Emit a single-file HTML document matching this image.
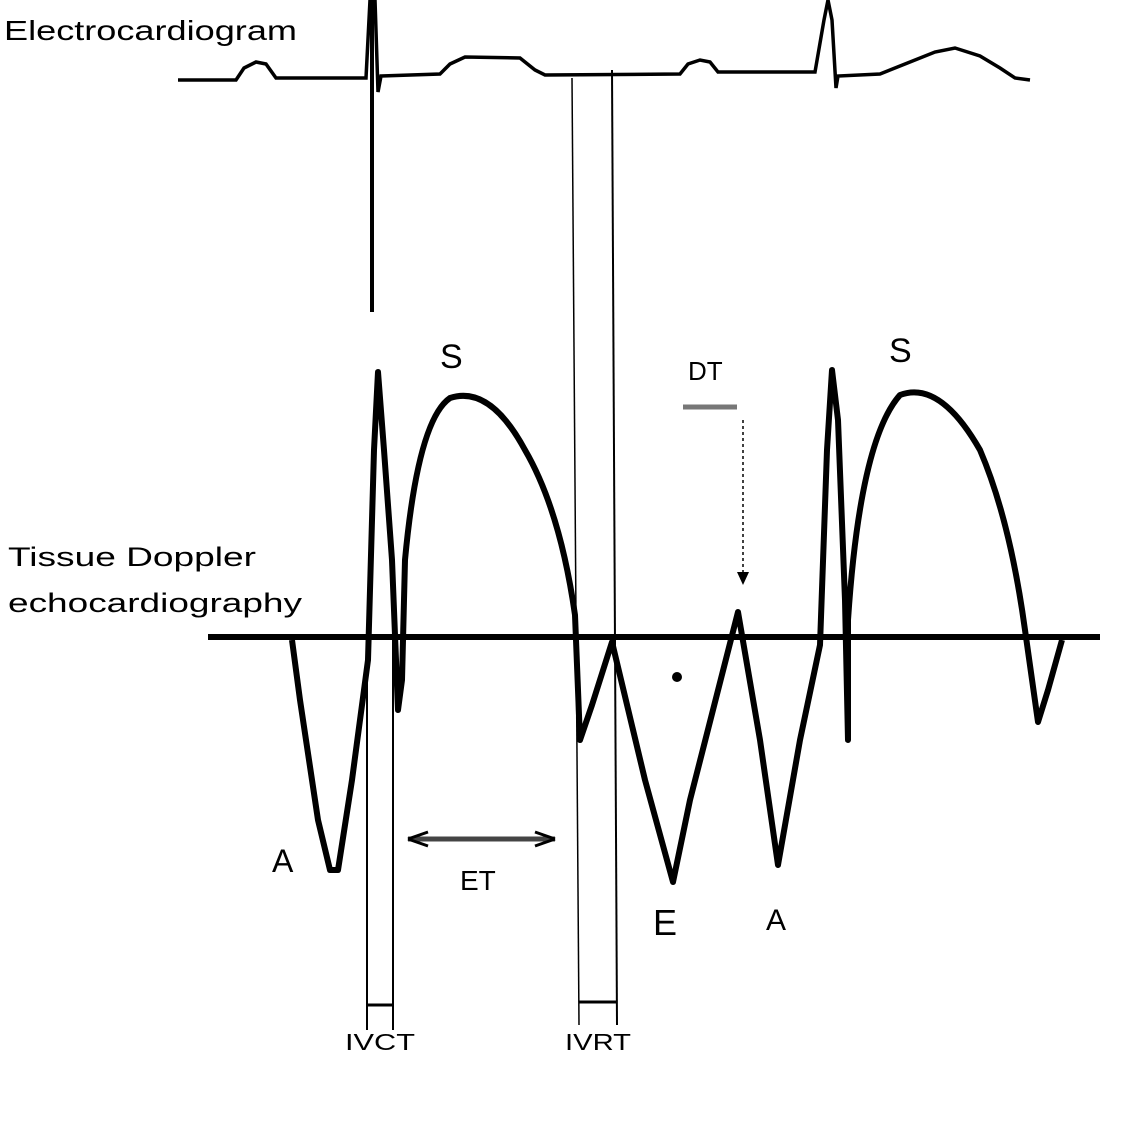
<!DOCTYPE html>
<html><head><meta charset="utf-8"><style>html,body{margin:0;padding:0;background:#fff}svg{display:block}</style></head>
<body>
<svg width="1130" height="1122" viewBox="0 0 1130 1122" xmlns="http://www.w3.org/2000/svg" font-family="Liberation Sans, sans-serif" fill="none" stroke="#000">
<!-- ECG -->
<text x="4" y="40" font-size="28" fill="#000" stroke="none" textLength="293" lengthAdjust="spacingAndGlyphs">Electrocardiogram</text>
<path d="M178 80 L236 80 L244 68 L256 62 L266 64 L276 78 L366 78 L370 0 L375 0 L378 92 L381 76 L440 74 L450 64 L465 57 L520 58 L535 70 L545 75 L680 74 L688 64 L700 60 L710 62 L718 72 L815 72 L824 20 L828 0 L832 20 L836 88 L838 76 L880 74 L905 64 L935 52 L955 48 L980 56 L1000 68 L1015 78 L1030 80" stroke-width="3.5"/>
<!-- vertical lines -->
<line x1="372" y1="0" x2="372" y2="312" stroke-width="4"/>
<line x1="572" y1="78" x2="579" y2="1025" stroke-width="1.5"/>
<line x1="612" y1="70" x2="617" y2="1025" stroke-width="2"/>
<line x1="367" y1="640" x2="367" y2="1030" stroke-width="2"/>
<line x1="393" y1="640" x2="393" y2="1030" stroke-width="2"/>
<line x1="367" y1="1005" x2="393" y2="1005" stroke-width="3"/>
<line x1="579" y1="1002" x2="617" y2="1002" stroke-width="3"/>
<!-- baseline -->
<line x1="208" y1="637" x2="1100" y2="637" stroke-width="6"/>
<!-- doppler wave -->
<path d="M292 640 L300 700 L318 820 L330 870 L338 870 L352 780 L368 660 L374 450 L378 372 L384 450 L392 560 L398 710 L402 680 L405 560 Q418 420 450 398 Q490 385 525 450 Q560 510 575 615 L580 740 L592 705 L612 642 L645 780 L673 882 L690 800 L738 612 L760 740 L778 865 L800 740 L820 645 L827 450 L832 370 L838 420 L845 600 L848 740 L848 620 Q860 440 900 395 Q940 380 980 450 Q1010 520 1025 630 L1038 722 L1048 690 L1062 640" stroke-width="6" stroke-linejoin="round"/>
<!-- labels -->
<g fill="#000" stroke="none">
<text x="8" y="566" font-size="27" textLength="248" lengthAdjust="spacingAndGlyphs">Tissue Doppler</text>
<text x="8" y="612" font-size="27" textLength="294" lengthAdjust="spacingAndGlyphs">echocardiography</text>
<text x="440" y="368" font-size="34">S</text>
<text x="889" y="362" font-size="34">S</text>
<text x="688" y="380" font-size="26">DT</text>
<text x="272" y="872" font-size="32">A</text>
<text x="460" y="890" font-size="28">ET</text>
<text x="653" y="935" font-size="36">E</text>
<text x="766" y="930" font-size="30">A</text>
<text x="345" y="1050" font-size="23" textLength="70" lengthAdjust="spacingAndGlyphs">IVCT</text>
<text x="565" y="1050" font-size="23" textLength="66" lengthAdjust="spacingAndGlyphs">IVRT</text>
<circle cx="677" cy="677" r="5"/>
<path d="M737 572 L749 572 L743 585 Z"/>
</g>
<line x1="683" y1="407" x2="737" y2="407" stroke-width="5" stroke="#777"/>
<line x1="743" y1="420" x2="743" y2="572" stroke-width="1.5" stroke-dasharray="3 3"/>
<line x1="408" y1="839" x2="555" y2="839" stroke-width="5" stroke="#444"/>
<path d="M408 839 L428 832 M408 839 L428 846 M555 839 L535 832 M555 839 L535 846" stroke-width="3"/>
</svg>
</body></html>
